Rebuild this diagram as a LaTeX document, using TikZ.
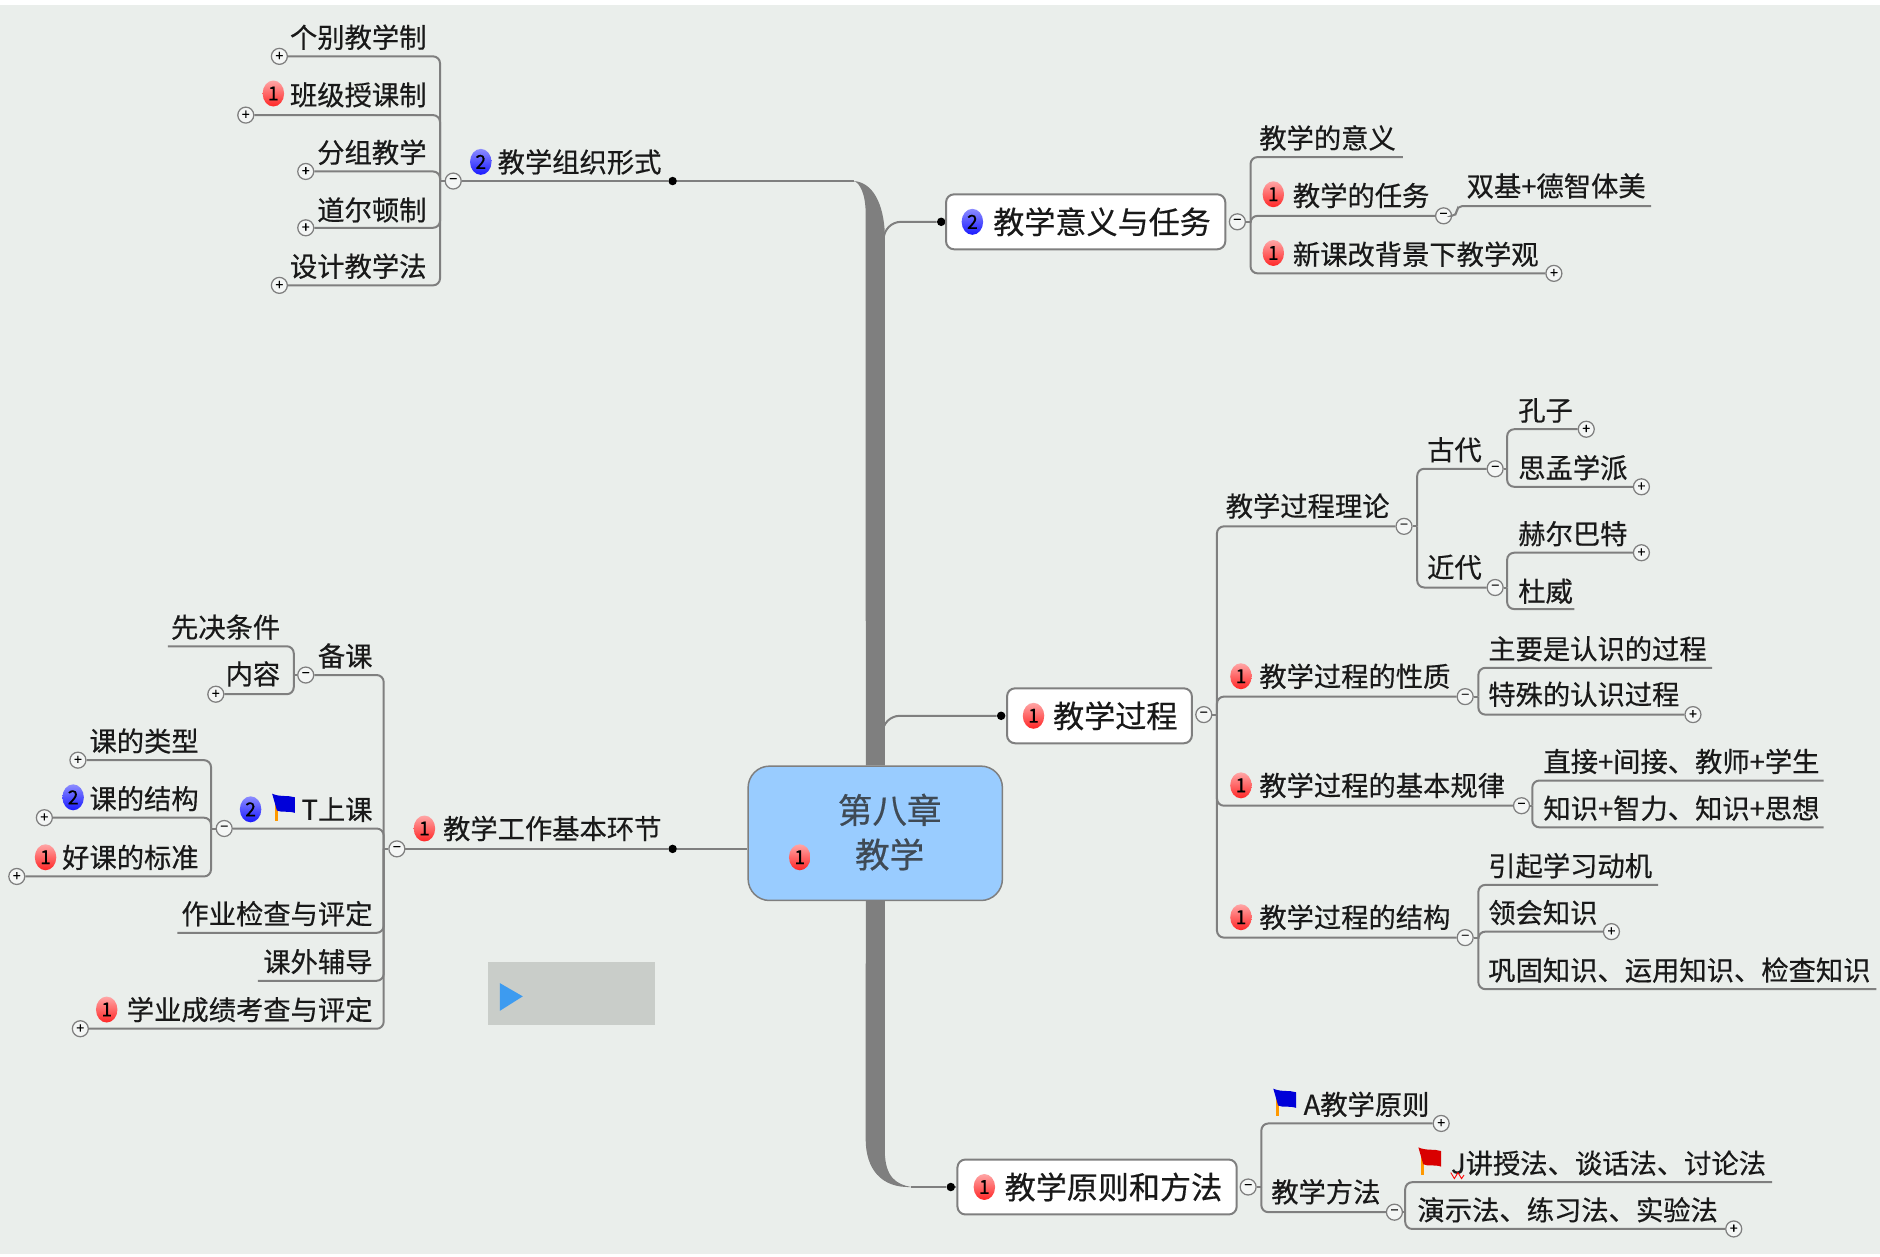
\documentclass[tikz,border=0pt]{standalone}
\usepackage{fontspec}
\setmainfont{Noto Sans CJK SC}[FakeBold=.45]
\usetikzlibrary{shapes.geometric}
\definecolor{bgc}{HTML}{EAEEEB}
\definecolor{linkc}{HTML}{7F7F7F}
\definecolor{skyc}{HTML}{99CCFF}
\definecolor{playc}{HTML}{C9CDC9}
\definecolor{arrowc}{HTML}{3D9BF0}
\definecolor{inkc}{HTML}{3F4A55}
\newcommand{\flagat}[3]{%
  \fill[orange!80!yellow] (#1-8,#2-4) rectangle (#1-5,#2+12);
  \fill[#3] (#1-10,#2-11) .. controls (#1-3,#2-8) and (#1+3,#2-10) .. (#1+9,#2-8)
    -- (#1+9,#2+5) .. controls (#1+3,#2+3) and (#1-2,#2+5) .. (#1-6,#2+3) -- cycle;}
\begin{document}
\begin{tikzpicture}[x=.024cm,y=-.024cm,
  link/.style={draw=linkc,line width=.04cm,rounded corners=.14cm},
  trunk/.style={fill=linkc},
  tip/.style={inner sep=0pt,text=black!90,text height=.48cm,text depth=.06cm,font=\fontsize{15.55}{18}\selectfont},
  tl/.style={tip,anchor=west},
  tr/.style={tip,anchor=east},
  mainbox/.style={draw=linkc,line width=.04cm,fill=white,rounded corners=.16cm,minimum height=1.1cm,inner xsep=.29cm,inner ysep=0pt,align=right,text=black!90,font=\fontsize{17.7}{20}\selectfont},
  tgl/.style={circle,draw=linkc,line width=.025cm,fill=bgc!50!white,minimum size=.32cm,inner sep=0pt,text=black,font=\fontsize{8}{8}\selectfont},
  dotn/.style={circle,fill=black,minimum size=.17cm,inner sep=0pt},
  badge/.style={ellipse,minimum width=.43cm,minimum height=.52cm,inner sep=0pt,text=black,font=\fontsize{11}{11}\selectfont},
  one/.style={badge,top color=red!35!white,bottom color=red!85!white},
  two/.style={badge,top color=blue!45!white,bottom color=blue!90!white}]
  \useasboundingbox (0,0) rectangle (1568,1048);
  \fill[white] (0,0) rectangle (1568,1048);
  \fill[bgc] (0,4) rectangle (1568,1046);

  \node[draw=linkc,line width=.03cm,fill=skyc,rounded corners=.43cm,minimum width=5.09cm,minimum height=2.69cm] (c) at (730,695) {};
  \node[inner sep=0pt,align=center,text=inkc,font=\fontsize{19.7}{25.3}\selectfont] (ct) at (742,694) {第八章\\教学};
  \node[one] (cb) at (667,715) {1};

  \node[dotn] (d1) at (561,151) {};
  \node[dotn] (d2) at (785,185) {};
  \node[dotn] (d3) at (835,597) {};
  \node[dotn] (d4) at (793,990) {};
  \node[dotn] (d5) at (561,708) {};
  \coordinate (k1) at (712,151);
  \coordinate (k2) at (737,215);
  \coordinate (k3) at (736,625);
  \coordinate (k4) at (760,990);
  \fill[trunk] ([xshift=-.19cm]c.north) -- (722,178) .. controls (722,162) and (717,152) .. (k1)
    .. controls (728,152) and (737,170) .. (738,195) -- ([xshift=.19cm]c.north) -- cycle;
  \fill[trunk] ([xshift=-.19cm]c.south) -- (722,950) .. controls (722,975) and (735,991) .. (k4)
    .. controls (748,988) and (738,982) .. (738,960) -- ([xshift=.19cm]c.south) -- cycle;
  \draw[link] (d1) -- (k1);
  \draw[link,rounded corners=.35cm] (d2) -| (k2);
  \draw[link,rounded corners=.35cm] (d3) -| (k3);
  \draw[link] (d4) -- (k4);
  \draw[link] (d5) -- (d5 -| c.west);

  \node[tr] (a) at (552,135) {教学组织形式};
  \node[two] (ab) at (401,135) {2};
  \node[tgl] (at) at (378,151) {−};
  \coordinate (aj) at (367,151);
  \draw[link] (at) -- (d1);
  \draw[link] (aj) -- (at);
  \node[tr] (a1) at (356,31) {个别教学制};
  \node[tgl] (a1t) at (233,47) {+};
  \draw[link] (a1t) -| (aj);
  \node[tr] (a2) at (356,79) {班级授课制};
  \node[one] (a2b) at (228,78) {1};
  \node[tgl] (a2t) at (205,96) {+};
  \draw[link] (a2t) -| (aj);
  \node[tr] (a3) at (356,127) {分组教学};
  \node[tgl] (a3t) at (255,143) {+};
  \draw[link] (a3t) -| (aj);
  \node[tr] (a4) at (356,175) {道尔顿制};
  \node[tgl] (a4t) at (255,190) {+};
  \draw[link] (a4t) -| (aj);
  \node[tr] (a5) at (356,222) {设计教学法};
  \node[tgl] (a5t) at (233,238) {+};
  \draw[link] (a5t) -| (aj);

  \node[tr] (b) at (552,691) {教学工作基本环节};
  \node[one] (bb) at (354,691) {1};
  \node[tgl] (bt) at (331,708) {−};
  \coordinate (bj) at (320,708);
  \draw[link] (bt) -- (d5);
  \draw[link] (bj) -- (bt);
  \node[tr] (b1) at (311,547) {备课};
  \node[tgl] (b1t) at (255,563) {−};
  \coordinate (b1j) at (245,563);
  \draw[link] (b1t) -| (bj);
  \draw[link] (b1j) -- (b1t);
  \node[tr] (b11) at (234,523) {先决条件};
  \coordinate (b11e) at (140,539);
  \draw[link] (b11e) -| (b1j);
  \node[tr] (b12) at (234,562) {内容};
  \node[tgl] (b12t) at (180,579) {+};
  \draw[link] (b12t) -| (b1j);
  \node[tr] (b2) at (311,675) {T上课};
  \node[two] (b2b) at (209,675) {2};
  \flagat{237}{673}{blue!85!black}
  \node[tgl] (b2t) at (187,691) {−};
  \coordinate (b2j) at (176,691);
  \draw[link] (b2t) -| (bj);
  \draw[link] (b2j) -- (b2t);
  \node[tr] (b21) at (166,618) {课的类型};
  \node[tgl] (b21t) at (65,634) {+};
  \draw[link] (b21t) -| (b2j);
  \node[tr] (b22) at (166,666) {课的结构};
  \node[two] (b22b) at (61,665) {2};
  \node[tgl] (b22t) at (37,682) {+};
  \draw[link] (b22t) -| (b2j);
  \node[tr] (b23) at (166,715) {好课的标准};
  \node[one] (b23b) at (38,715) {1};
  \node[tgl] (b23t) at (14,731) {+};
  \draw[link] (b23t) -| (b2j);
  \node[tr] (b3) at (311,762) {作业检查与评定};
  \coordinate (b3e) at (148,778);
  \draw[link] (b3e) -| (bj);
  \node[tr] (b4) at (311,802) {课外辅导};
  \coordinate (b4e) at (215,818);
  \draw[link] (b4e) -| (bj);
  \node[tr] (b5) at (311,842) {学业成绩考查与评定};
  \node[one] (b5b) at (89,842) {1};
  \node[tgl] (b5t) at (67,858) {+};
  \draw[link] (b5t) -| (bj);

  \fill[playc] (407,802) rectangle (546,855);
  \fill[arrowc] (417,820) -- (436,831) -- (417,843) -- cycle;

  \node[mainbox,text width=5.01cm] (e) at (905.5,185) {教学意义与任务};
  \node[two] (eb) at (811,185) {2};
  \node[tgl] (et) at (1032,185) {−};
  \coordinate (ej) at (1043,185);
  \draw[link] (e) -- (d2);
  \draw[link] (ej) -- (et);
  \node[tl] (e1) at (1050,115) {教学的意义};
  \coordinate (e1e) at (1170,131);
  \draw[link] (e1e) -| (ej);
  \node[tl] (e2) at (1078,163) {教学的任务};
  \node[one] (e2b) at (1062,162) {1};
  \node[tgl] (e2t) at (1204,180) {−};
  \draw[link] (e2t) -| (ej);
  \node[tl] (e21) at (1223,155) {双基+德智体美};
  \coordinate (e21e) at (1377,172);
  \draw[link,rounded corners=.1cm] (e21e) -| (1215,180) -- (e2t);
  \node[tl] (e3) at (1078,212) {新课改背景下教学观};
  \node[one] (e3b) at (1062,211) {1};
  \node[tgl] (e3t) at (1296,228) {+};
  \draw[link] (e3t) -| (ej);

  \node[mainbox,text width=3.12cm] (p) at (917,597) {教学过程};
  \node[one] (pb) at (862,597) {1};
  \node[tgl] (pt) at (1004,596) {−};
  \coordinate (pj) at (1015,596);
  \draw[link] (p) -- (d3);
  \draw[link] (pj) -- (pt);
  \node[tl] (p1) at (1022,422) {教学过程理论};
  \node[tgl] (p1t) at (1171,439) {−};
  \coordinate (p1j) at (1182,439);
  \draw[link] (p1t) -| (pj);
  \draw[link] (p1j) -- (p1t);
  \node[tl] (p11) at (1190,375) {古代};
  \node[tgl] (p11t) at (1247,391) {−};
  \coordinate (p11j) at (1257,391);
  \draw[link] (p11t) -| (p1j);
  \draw[link] (p11j) -- (p11t);
  \node[tl] (p111) at (1266,342) {孔子};
  \node[tgl] (p111t) at (1323,358) {+};
  \draw[link] (p111t) -| (p11j);
  \node[tl] (p112) at (1266,390) {思孟学派};
  \node[tgl] (p112t) at (1369,406) {+};
  \draw[link] (p112t) -| (p11j);
  \node[tl] (p12) at (1190,473) {近代};
  \node[tgl] (p12t) at (1247,490) {−};
  \coordinate (p12j) at (1257,490);
  \draw[link] (p12t) -| (p1j);
  \draw[link] (p12j) -- (p12t);
  \node[tl] (p121) at (1266,445) {赫尔巴特};
  \node[tgl] (p121t) at (1369,461) {+};
  \draw[link] (p121t) -| (p12j);
  \node[tl] (p122) at (1266,493) {杜威};
  \coordinate (p122e) at (1313,508);
  \draw[link] (p122e) -| (p12j);
  \node[tl] (p2) at (1050,564) {教学过程的性质};
  \node[one] (p2b) at (1035,564) {1};
  \node[tgl] (p2t) at (1222,581) {−};
  \coordinate (p2j) at (1233,581);
  \draw[link] (p2t) -| (pj);
  \draw[link] (p2j) -- (p2t);
  \node[tl] (p21) at (1241,541) {主要是认识的过程};
  \coordinate (p21e) at (1428,557);
  \draw[link] (p21e) -| (p2j);
  \node[tl] (p22) at (1241,579) {特殊的认识过程};
  \node[tgl] (p22t) at (1412,596) {+};
  \draw[link] (p22t) -| (p2j);
  \node[tl] (p3) at (1050,655) {教学过程的基本规律};
  \node[one] (p3b) at (1035,655) {1};
  \node[tgl] (p3t) at (1269,672) {−};
  \coordinate (p3j) at (1278,672);
  \draw[link] (p3t) -| (pj);
  \draw[link] (p3j) -- (p3t);
  \node[tl] (p31) at (1287,635) {直接+间接、教师+学生};
  \coordinate (p31e) at (1521,651);
  \draw[link] (p31e) -| (p3j);
  \node[tl] (p32) at (1287,674) {知识+智力、知识+思想};
  \coordinate (p32e) at (1521,690);
  \draw[link] (p32e) -| (p3j);
  \node[tl] (p4) at (1050,765) {教学过程的结构};
  \node[one] (p4b) at (1035,765) {1};
  \node[tgl] (p4t) at (1222,782) {−};
  \coordinate (p4j) at (1233,782);
  \draw[link] (p4t) -| (pj);
  \draw[link] (p4j) -- (p4t);
  \node[tl] (p41) at (1241,722) {引起学习动机};
  \coordinate (p41e) at (1383,738);
  \draw[link] (p41e) -| (p4j);
  \node[tl] (p42) at (1241,761) {领会知识};
  \node[tgl] (p42t) at (1344,777) {+};
  \draw[link] (p42t) -| (p4j);
  \node[tl] (p43) at (1241,809) {巩固知识、运用知识、检查知识};
  \coordinate (p43e) at (1565,825);
  \draw[link] (p43e) -| (p4j);

  \node[mainbox,text width=5.01cm] (r) at (915,990) {教学原则和方法};
  \node[one] (rb) at (821,990) {1};
  \node[tgl] (rt) at (1041,990) {−};
  \coordinate (rj) at (1052,990);
  \draw[link] (r) -- (d4);
  \draw[link] (rj) -- (rt);
  \node[tl] (r1) at (1087,921) {A教学原则};
  \flagat{1072}{919}{blue!85!black}
  \node[tgl] (r1t) at (1202,937) {+};
  \draw[link] (r1t) -| (rj);
  \node[tl] (r2) at (1060,994) {教学方法};
  \node[tgl] (r2t) at (1163,1011) {−};
  \coordinate (r2j) at (1172,1011);
  \draw[link] (r2t) -| (rj);
  \draw[link] (r2j) -- (r2t);
  \node[tl] (r21) at (1210,970) {J讲授法、谈话法、讨论法};
  \flagat{1193}{968}{red!85!black}
  \coordinate (r21e) at (1478,986);
  \draw[link] (r21e) -| (r2j);
  \draw[red,line width=.5pt] (1210,978) -- (1213,983) -- (1216,978) -- (1219,983) -- (1221,980);
  \node[tl] (r22) at (1182,1009) {演示法、练习法、实验法};
  \node[tgl] (r22t) at (1446,1025) {+};
  \draw[link] (r22t) -| (r2j);
\end{tikzpicture}
\end{document}
